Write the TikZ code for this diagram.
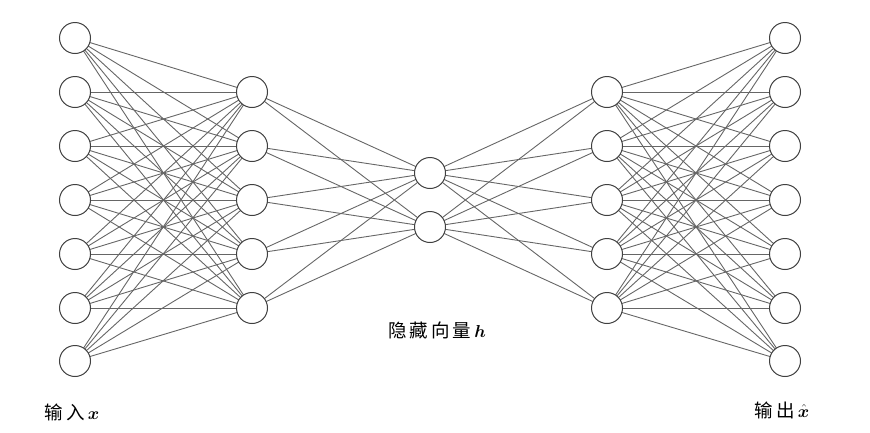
\documentclass[tikz,border=0pt]{standalone}
\usepackage{fontspec}
\usepackage{bm}
\newfontfamily\cjk{Noto Sans CJK SC}
\begin{document}
\begin{tikzpicture}[x=1pt,y=-1pt,
  neuron/.style={circle,draw=black!75,line width=1pt,fill=white,minimum size=31pt,inner sep=0pt},
  conn/.style={draw=black!60,line width=0.9pt},
  lbl/.style={font=\fontsize{18.5}{22}\selectfont\cjk,inner sep=0pt}]
\useasboundingbox (0,0) rectangle (870,432);
% layer positions
\foreach \i/\y in {1/38,2/92,3/146,4/200,5/254,6/308,7/361}{
  \coordinate (a\i) at (75,\y);
  \coordinate (e\i) at (785,\y);
}
\foreach \i/\y in {1/92,2/146,3/200,4/254,5/308}{
  \coordinate (b\i) at (252,\y);
  \coordinate (d\i) at (607,\y);
}
\foreach \i/\y in {1/173,2/227}{
  \coordinate (c\i) at (430,\y);
}
% connections
\foreach \i in {1,...,7}{\foreach \j in {1,...,5}{
  \draw[conn] (a\i) -- (b\j);
  \draw[conn] (d\j) -- (e\i);
}}
\foreach \i in {1,...,5}{\foreach \j in {1,2}{
  \draw[conn] (b\i) -- (c\j);
  \draw[conn] (c\j) -- (d\i);
}}
% nodes
\foreach \i in {1,...,7}{
  \node[neuron] (na\i) at (a\i) {};
  \node[neuron] (ne\i) at (e\i) {};
}
\foreach \i in {1,...,5}{
  \node[neuron] (nb\i) at (b\i) {};
  \node[neuron] (nd\i) at (d\i) {};
}
\foreach \i in {1,2}{
  \node[neuron] (nc\i) at (c\i) {};
}
% labels
\node[lbl] (lin) at (72,412) {输\,入\,$\bm{x}$};
\node[lbl] (lh) at (437,330) {隐\,藏\,向\,量\,$\bm{h}$};
\node[lbl] (lout) at (782,410) {输\,出\,$\hat{\bm{x}}$};
\end{tikzpicture}
\end{document}
